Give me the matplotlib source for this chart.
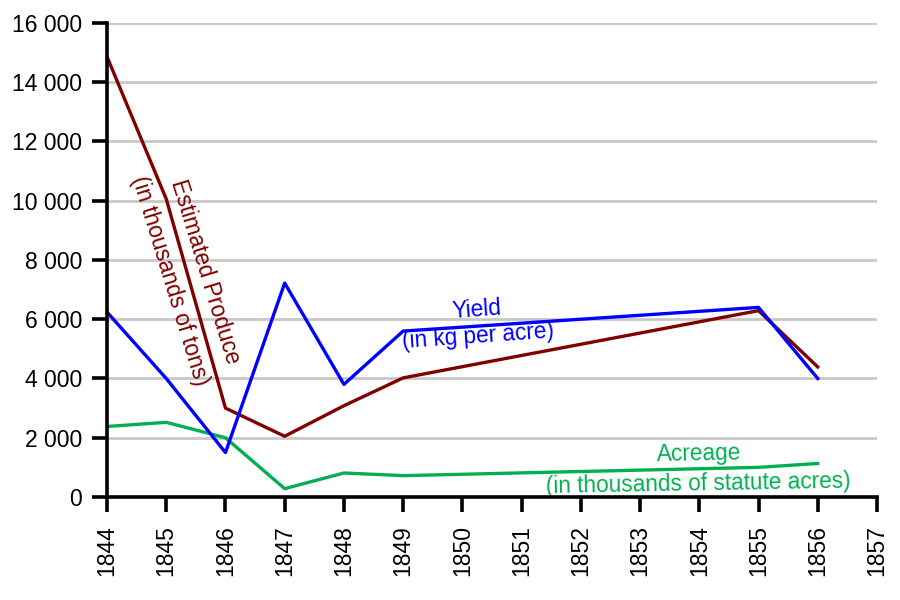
import numpy as np
import matplotlib
matplotlib.use('Agg')
import matplotlib.pyplot as plt
from matplotlib.ticker import FuncFormatter

plt.rcParams['font.family'] = ['Liberation Sans', 'DejaVu Sans']

# Data
years = [1844, 1845, 1846, 1847, 1848, 1849, 1855, 1856]
produce = [14860, 10060, 3000, 2050, 3080, 4020, 6290, 4390]   # thousands of tons
yield_kg = [6240, 4000, 1500, 7220, 3800, 5600, 6400, 4000]   # kg per acre
acreage = [2380, 2520, 2000, 280, 810, 720, 1000, 1130]       # thousands of statute acres

xticks = list(range(1844, 1858))
yticks = list(range(0, 16001, 2000))

c_prod = '#800000'
c_yield = '#0000ff'
c_acre = '#00b050'

fig = plt.figure(figsize=(9, 6), dpi=100)
ax = fig.add_axes([0.1189, 0.1717, 0.9744 - 0.1189, 0.9617 - 0.1717])

for y in yticks:
    ax.axhline(y, color='#c8c8c8', lw=2, zorder=0)

ax.plot(years, produce, color=c_prod, lw=2.4, zorder=3)
ax.plot(years, acreage, color=c_acre, lw=2.4, zorder=3)
ax.plot(years, yield_kg, color=c_yield, lw=2.4, zorder=4)

fs = 16.3
ax.text(1845.65, 7600, 'Estimated Produce', color=c_prod, fontsize=fs,
        rotation=-73, ha='center', va='center', rotation_mode='anchor')
ax.text(1845.06, 7300, '(in thousands of tons)', color=c_prod, fontsize=fs,
        rotation=-73, ha='center', va='center', rotation_mode='anchor')
ax.text(1850.25, 6330, 'Yield', color=c_yield, fontsize=fs,
        rotation=4, ha='center', va='center', rotation_mode='anchor')
ax.text(1850.27, 5420, '(in kg per acre)', color=c_yield, fontsize=fs,
        rotation=4, ha='center', va='center', rotation_mode='anchor')
ax.text(1854.0, 1450, 'Acreage', color=c_acre, fontsize=fs,
        rotation=1, ha='center', va='center', rotation_mode='anchor')
ax.text(1853.99, 440, '(in thousands of statute acres)', color=c_acre, fontsize=fs,
        rotation=1, ha='center', va='center', rotation_mode='anchor')

ax.set_xlim(1844, 1857)
ax.set_ylim(0, 16000)
ax.set_xticks(xticks)
ax.set_yticks(yticks)
ax.set_xticklabels([str(x) for x in xticks], rotation=90)
ax.yaxis.set_major_formatter(FuncFormatter(lambda v, p: '{:,}'.format(int(v)).replace(',', ' ')))

for s in ['top', 'right']:
    ax.spines[s].set_visible(False)
for s in ['left', 'bottom']:
    ax.spines[s].set_linewidth(2.6)
    ax.spines[s].set_color('black')
    ax.spines[s].set_zorder(5)
ax.tick_params(axis='both', length=11, width=2.6, labelsize=16.5, colors='black')
ax.tick_params(axis='y', pad=7)
ax.tick_params(axis='x', pad=9)
ax.set_facecolor('white')

fig.savefig('out.png', dpi=100)
